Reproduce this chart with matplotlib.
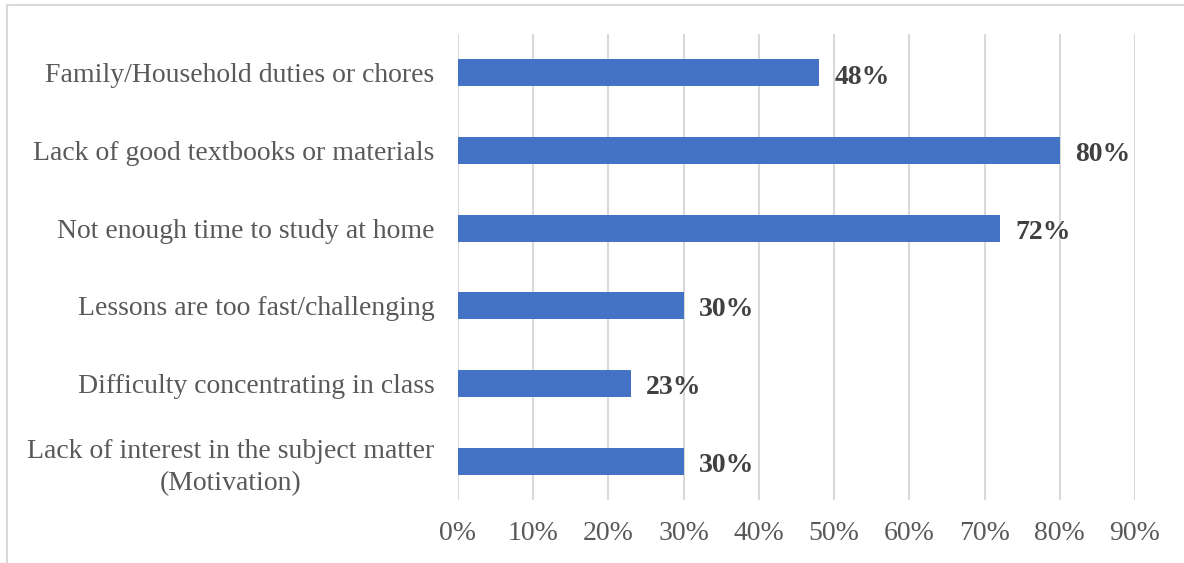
import matplotlib.pyplot as plt
from matplotlib.patches import Rectangle

# data
categories = [
    "Lack of interest in the subject matter\n(Motivation)",
    "Difficulty concentrating in class",
    "Lessons are too fast/challenging",
    "Not enough time to study at home",
    "Lack of good textbooks or materials",
    "Family/Household duties or chores",
]
values = [30, 23, 30, 72, 80, 48]
xticks = [0, 10, 20, 30, 40, 50, 60, 70, 80, 90]

plt.rcParams['font.family'] = ['Liberation Serif', 'DejaVu Serif']

fig = plt.figure(figsize=(11.84, 5.63), dpi=100)
ax = fig.add_axes([458 / 1184, 1 - 500 / 563, (1135 - 458) / 1184, (500 - 34) / 563])

y = range(len(categories))
ax.barh(y, values, height=0.35, color="#4472C4", zorder=3)

for yi, v in zip(y, values):
    ax.annotate(f"{v}%", (v, yi), xytext=(11, -3), textcoords="offset points",
                va="center", ha="left", fontsize=20, fontweight="bold", color="#404040")

ax.set_xlim(0, 90)
ax.set_ylim(-0.5, len(categories) - 0.5)
ax.set_xticks(xticks)
ax.set_xticklabels([f"{t}%" for t in xticks])
ax.set_yticks(list(y))
ax.set_yticklabels(categories, linespacing=1.35)

ax.tick_params(axis="x", length=0, pad=15, labelsize=20, labelcolor="#595959")
ax.tick_params(axis="y", length=0, pad=17, labelsize=20, labelcolor="#595959")
for lbl in ax.get_yticklabels():
    lbl.set_horizontalalignment("right")
    lbl.set_multialignment("center")

ax.grid(axis="x", color="#D9D9D9", linewidth=1.5, zorder=0)
for s in ax.spines.values():
    s.set_visible(False)

# chart border
fig.patches.append(Rectangle((7 / 1184, -0.05), 1.1, 1 - 5 / 563 + 0.05,
                             transform=fig.transFigure, fill=False,
                             edgecolor="#D9D9D9", linewidth=1.5))

fig.savefig("out.png", dpi=100)
